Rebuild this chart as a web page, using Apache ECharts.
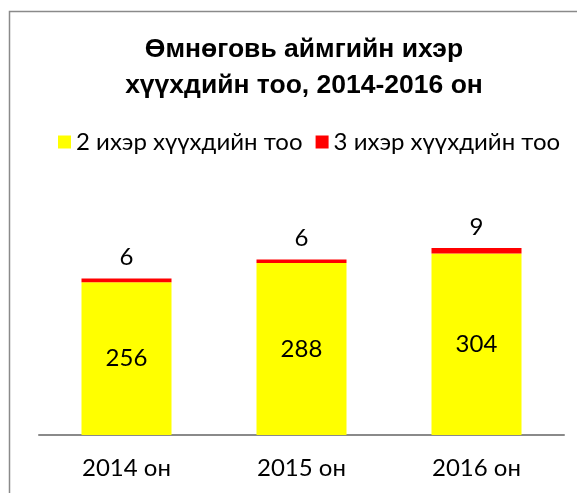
<!DOCTYPE html>
<html>
<head>
<meta charset="utf-8">
<script src="https://cdn.jsdelivr.net/npm/echarts@6/dist/echarts.min.js"></script>
<style>
  html, body { margin: 0; padding: 0; background: #fff; }
  #main { width: 577px; height: 493px; }
</style>
</head>
<body>
<div id="main"></div>
<script>
var categories = ["2014 он", "2015 он", "2016 он"];
var seriesNames = ["2 ихэр хүүхдийн тоо", "3 ихэр хүүхдийн тоо"];
var twins = [256, 288, 304];
var triplets = [6, 6, 9];

var labelFont = "Lato, 'Open Sans', sans-serif";

var myChart = echarts.init(document.getElementById("main"));
myChart.setOption({
  animation: false,
  title: {
    text: "Өмнөговь аймгийн ихэр\nхүүхдийн тоо, 2014-2016 он",
    left: 299,
    top: 27,
    textAlign: "center",
    textStyle: {
      fontFamily: "'Liberation Sans', Arial, sans-serif",
      fontWeight: "bold",
      fontSize: 26.5,
      lineHeight: 36,
      color: "#000",
    },
  },
  legend: {
    left: 53,
    top: 125,
    itemWidth: 13,
    itemHeight: 13,
    itemGap: 13,
    icon: "rect",
    textStyle: {
      fontFamily: labelFont,
      fontSize: 24,
      color: "#000",
    },
    data: seriesNames,
  },
  graphic: [
    {
      type: "rect",
      shape: { x: 9.5, y: 11.5, width: 800, height: 800 },
      style: { fill: "none", stroke: "#8a8a8a", lineWidth: 1.5 },
      silent: true,
    },
  ],
  grid: {
    left: 39,
    right: 13,
    top: 226,
    bottom: 58,
  },
  xAxis: {
    type: "category",
    data: categories,
    axisLine: {
      lineStyle: { color: "#8a8a8a", width: 2 },
    },
    axisTick: { show: false },
    axisLabel: {
      fontFamily: labelFont,
      fontSize: 24,
      color: "#000",
      margin: 21,
    },
  },
  yAxis: {
    type: "value",
    min: 0,
    max: 350,
    show: false,
    splitLine: { show: false },
  },
  series: [
    {
      name: seriesNames[0],
      type: "bar",
      stack: "total",
      barWidth: 90,
      data: twins,
      itemStyle: { color: "#ffff00" },
      label: {
        show: true,
        position: "inside",
        fontFamily: labelFont,
        fontSize: 24,
        color: "#000",
      },
    },
    {
      name: seriesNames[1],
      type: "bar",
      stack: "total",
      barWidth: 90,
      data: triplets,
      itemStyle: { color: "#ff0000" },
      label: {
        show: true,
        position: "top",
        distance: 9,
        fontFamily: labelFont,
        fontSize: 24,
        color: "#000",
      },
    },
  ],
});
</script>
</body>
</html>
